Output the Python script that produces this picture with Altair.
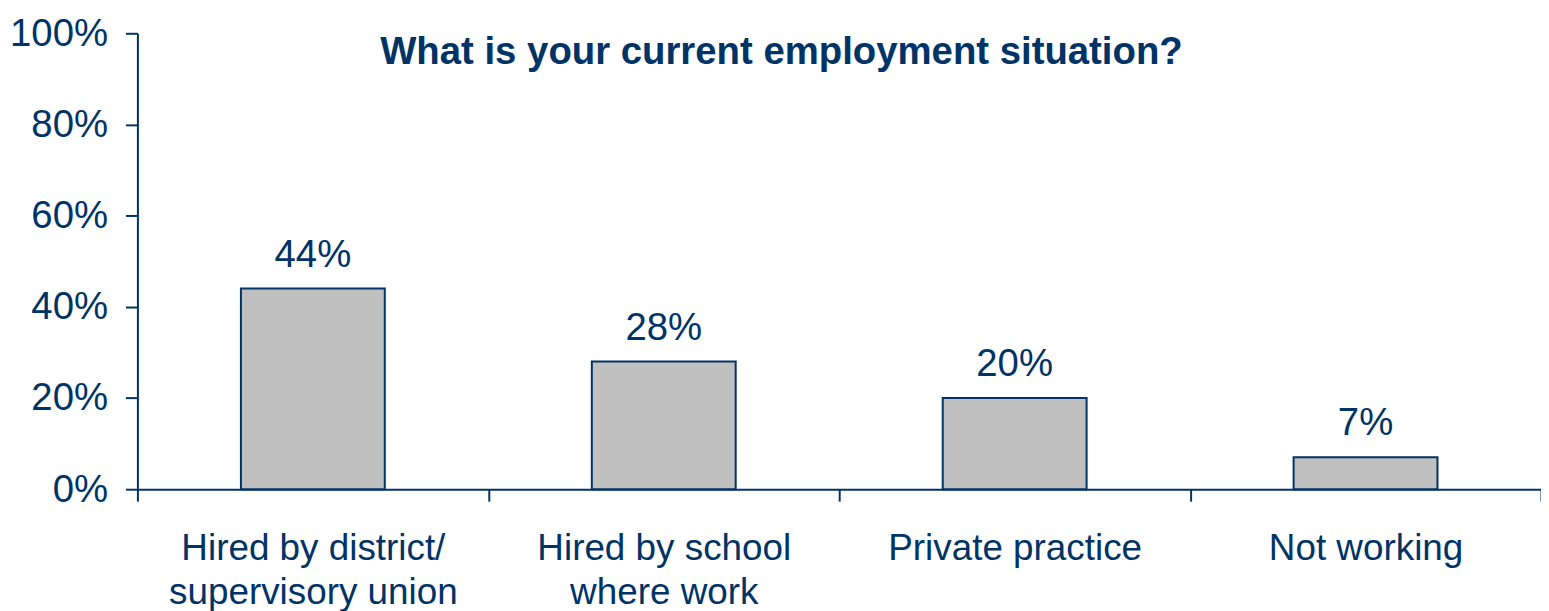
import altair as alt
import pandas as pd

categories = ["Hired by district/ supervisory union", "Hired by school where work",
              "Private practice", "Not working"]
label_lines = [["Hired by district/", "supervisory union"], ["Hired by school", "where work"],
               ["Private practice"], ["Not working"]]
values = [0.44, 0.28, 0.20, 0.07]
title_text = "What is your current employment situation?"

NAVY = "#003366"
FONT = "Arial, Liberation Sans, Helvetica, sans-serif"

df = pd.DataFrame({"category": categories, "value": values})

parts = []
for c, lines in zip(categories, label_lines):
    arr = "[" + ",".join("'" + l + "'" for l in lines) + "]"
    parts.append(f"datum.label == '{c}' ? {arr}")
label_expr = " : ".join(parts) + " : datum.label"

x = alt.X("category:N", sort=categories, title=None,
          scale=alt.Scale(paddingInner=0, paddingOuter=0),
          axis=alt.Axis(labelAngle=0, labelExpr=label_expr, labelFont=FONT, labelFontSize=37,
                        labelColor=NAVY, labelLineHeight=44, labelPadding=30,
                        tickBand="extent", tickSize=12, tickColor=NAVY, tickWidth=2,
                        domainColor=NAVY, domainWidth=2, labelLimit=400))
y = alt.Y("value:Q", title=None,
          scale=alt.Scale(domain=[0, 1]),
          axis=alt.Axis(values=[0, 0.2, 0.4, 0.6, 0.8, 1.0], format=".0%", grid=False,
                        labelFont=FONT, labelFontSize=38.5, labelColor=NAVY, labelPadding=18,
                        tickSize=12, tickColor=NAVY, tickWidth=2,
                        domainColor=NAVY, domainWidth=2))

base = alt.Chart(df)
bars = base.mark_bar(color="#C0C0C0", stroke=NAVY, strokeWidth=2,
                     width=alt.RelativeBandSize(0.41)).encode(x=x, y=y)
labels = base.mark_text(font=FONT, fontSize=38.5, color=NAVY, baseline="alphabetic", dy=-22).encode(
    x=alt.X("category:N", sort=categories), y="value:Q", text=alt.Text("value:Q", format=".0%"))

title_df = pd.DataFrame({"t": [title_text]})
title = alt.Chart(title_df).mark_text(font=FONT, fontSize=38.5, fontWeight="bold", color=NAVY,
                                      baseline="alphabetic", align="center").encode(
    x=alt.value(647), y=alt.value(31), text="t:N")

chart = alt.layer(bars, labels, title).properties(
    width=1410, height=458,
    background="white",
    autosize=alt.AutoSizeParams(type="none"),
    padding={"left": 130, "top": 24, "right": 0, "bottom": 130},
).configure_view(stroke=None, strokeWidth=0)

chart.save("out.html", embed_options={"renderer": "svg", "actions": False})
